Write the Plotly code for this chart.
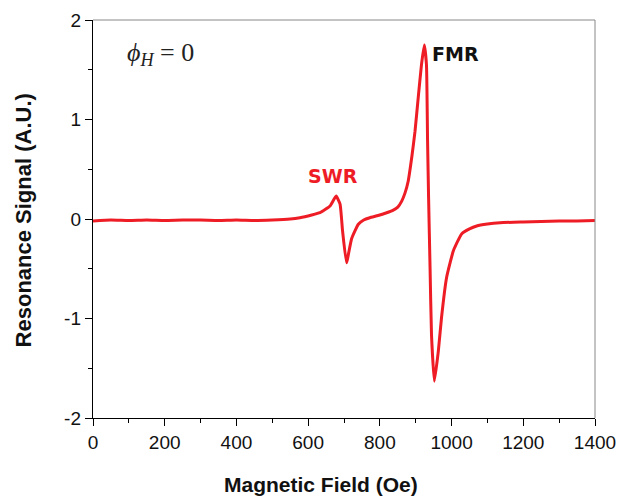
import plotly.graph_objects as go

field = [0, 50, 100, 150, 200, 250, 300, 350, 400, 450, 500, 550, 577, 610, 633, 661,
         678, 689, 696, 707, 721, 740, 755, 772, 795, 819, 835, 850, 861, 870, 879, 889,
         898, 907, 916, 924, 930, 933, 936, 940, 944, 952, 963, 972, 986, 1005, 1028,
         1050, 1070, 1100, 1135, 1200, 1250, 1300, 1350, 1400]
signal = [-0.02, -0.01, -0.015, -0.01, -0.015, -0.01, -0.01, -0.015, -0.01, -0.015, -0.01,
          0.0, 0.013, 0.04, 0.063, 0.13, 0.23, 0.15, -0.12, -0.44, -0.20, -0.053, -0.01,
          0.013, 0.035, 0.063, 0.085, 0.12, 0.18, 0.26, 0.38, 0.62, 0.88, 1.22, 1.55, 1.75,
          1.55, 0.8, 0.2, -0.49, -1.16, -1.63, -1.33, -0.99, -0.59, -0.32, -0.15, -0.1,
          -0.07, -0.05, -0.037, -0.03, -0.025, -0.02, -0.02, -0.015]

x_ticks = [0, 200, 400, 600, 800, 1000, 1200, 1400]
y_ticks = [-2, -1, 0, 1, 2]
y_tick_labels = ["-2", "-1", "0", "1", "2"]

red = "#ee1c25"
tick_font = dict(family="Liberation Sans, Arial", size=19, color="#111")

fig = go.Figure()
fig.add_trace(go.Scatter(x=field, y=signal, mode="lines",
                         line=dict(color=red, width=3, shape="spline", smoothing=0.4),
                         showlegend=False, hoverinfo="skip"))

fig.update_layout(
    width=625, height=490,
    margin=dict(l=85, r=38, t=12, b=80),
    paper_bgcolor="white", plot_bgcolor="white",
    xaxis=dict(range=[0, 1400], tickvals=x_ticks, ticks="outside", ticklen=7, tickwidth=1.2,
               tickcolor="black", showline=True, linecolor="black", linewidth=1.4,
               showgrid=False, zeroline=False, tickfont=tick_font, automargin=False,
               minor=dict(dtick=100, ticks="outside", ticklen=4, tickcolor="black", tickwidth=1.2)),
    yaxis=dict(range=[-2, 2], tickvals=y_ticks, ticktext=y_tick_labels, ticks="outside",
               ticklen=7, tickwidth=1.2, automargin=False,
               tickcolor="black", showline=True, linecolor="black", linewidth=1.4,
               showgrid=False, zeroline=False, tickfont=tick_font,
               minor=dict(dtick=0.5, ticks="outside", ticklen=4, tickcolor="black", tickwidth=1.2)),
    shapes=[
        dict(type="line", xref="paper", yref="paper", x0=0, x1=1, y0=1, y1=1,
             line=dict(color="#888", width=1)),
        dict(type="line", xref="paper", yref="paper", x0=1, x1=1, y0=0, y1=1,
             line=dict(color="#888", width=1)),
    ],
    annotations=[
        dict(text="<b>Magnetic Field (Oe)</b>", xref="paper", yref="paper", x=0.454, y=-0.168,
             xanchor="center", yanchor="middle", showarrow=False,
             font=dict(family="Liberation Sans, Arial", size=21, color="#111")),
        dict(text="<b>Resonance Signal (A.U.)</b>", xref="paper", yref="paper", x=-0.139, y=0.497,
             xanchor="center", yanchor="middle", textangle=-90, showarrow=False,
             font=dict(family="Liberation Sans, Arial", size=22, color="#111")),
        dict(text="<i>ϕ</i><sub><i>H</i></sub> = 0", x=187, y=1.66, xref="x", yref="y",
             xanchor="center", yanchor="middle", showarrow=False,
             font=dict(family="Liberation Serif, Times New Roman", size=26, color="#222")),
        dict(text="<b>SWR</b>", x=669, y=0.43, xref="x", yref="y", xanchor="center",
             yanchor="middle", showarrow=False,
             font=dict(family="DejaVu Sans", size=19, color=red)),
        dict(text="<b>FMR</b>", x=1011, y=1.66, xref="x", yref="y", xanchor="center",
             yanchor="middle", showarrow=False,
             font=dict(family="DejaVu Sans", size=19, color="#111")),
    ],
)

fig.write_html("out.html")
